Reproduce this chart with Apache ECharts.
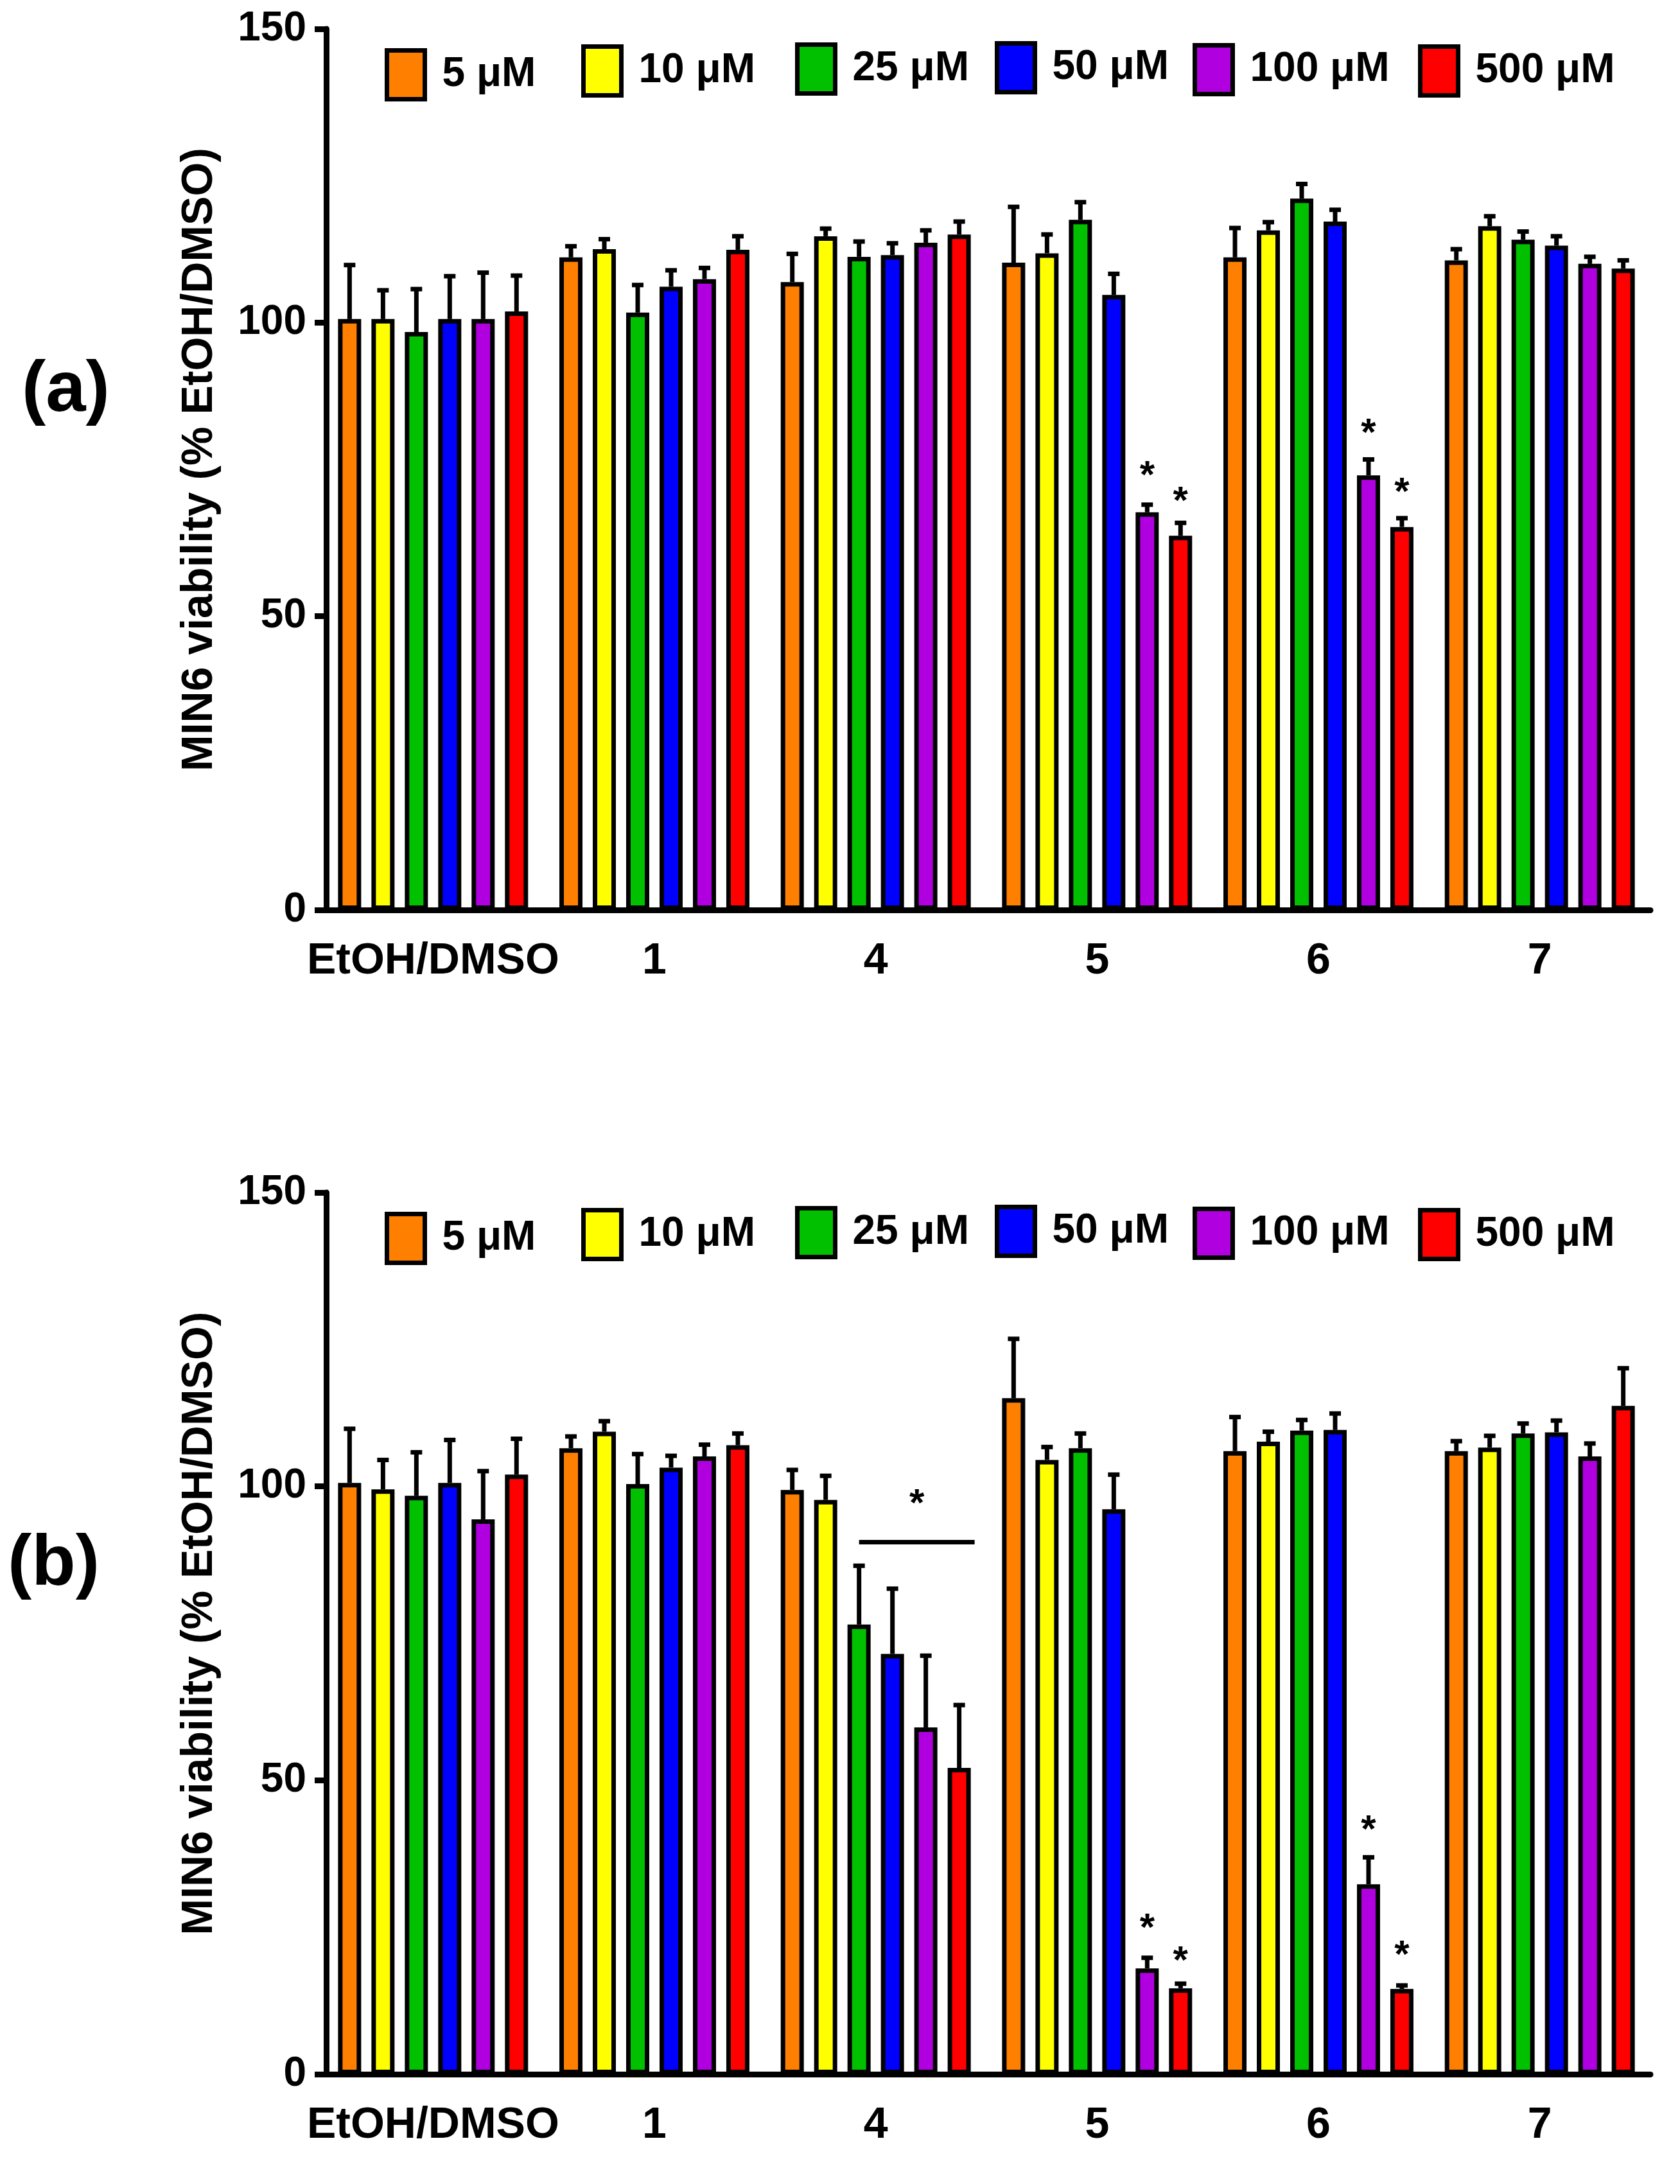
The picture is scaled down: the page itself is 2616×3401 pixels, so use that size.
<!DOCTYPE html>
<html>
<head>
<meta charset="utf-8">
<script src="https://cdn.jsdelivr.net/npm/echarts@6/dist/echarts.min.js"></script>
<style>
html,body{margin:0;padding:0;background:#fff;}
#chart{width:2616px;height:3401px;}
</style>
</head>
<body>
<div id="chart"></div>
<script>
// ---------------- DATA ----------------
const categories = ['EtOH/DMSO', '1', '4', '5', '6', '7'];
const concentrations = ['5 μM', '10 μM', '25 μM', '50 μM', '100 μM', '500 μM'];
const yTicks = [0, 50, 100, 150];

// Panel (a): means per concentration across categories
const a_5   = [100.6, 111.1, 106.9, 110.2, 111.1, 110.6];
const a_10  = [100.6, 112.5, 114.7, 111.8, 115.7, 116.4];
const a_25  = [98.4, 101.7, 111.2, 117.5, 121.1, 114.1];
const a_50  = [100.6, 106.1, 111.5, 104.7, 117.2, 113.1];
const a_100 = [100.6, 107.4, 113.6, 67.7, 74.0, 110.0];
const a_500 = [101.9, 112.4, 115.0, 63.7, 65.2, 109.2];
// Panel (a): upper error (SD)
const a_5_sd   = [9.2, 1.9, 4.8, 9.5, 5.0, 1.9];
const a_10_sd  = [4.9, 1.7, 1.3, 3.2, 1.4, 1.7];
const a_25_sd  = [7.3, 4.7, 2.6, 3.0, 2.5, 1.4];
const a_50_sd  = [7.3, 2.8, 2.0, 3.6, 2.0, 1.6];
const a_100_sd = [7.9, 1.9, 2.1, 1.3, 2.7, 1.2];
const a_500_sd = [6.1, 2.3, 2.2, 2.2, 1.5, 1.4];

// Panel (b): means
const b_5   = [100.6, 106.5, 99.4, 115.0, 106.0, 106.0];
const b_10  = [99.5, 109.3, 97.7, 104.5, 107.6, 106.6];
const b_25  = [98.4, 100.4, 76.5, 106.5, 109.5, 109.0];
const b_50  = [100.6, 103.2, 71.5, 96.1, 109.6, 109.2];
const b_100 = [94.4, 105.1, 59.0, 18.0, 32.3, 105.1];
const b_500 = [102.0, 107.0, 52.1, 14.6, 14.5, 113.7];
// Panel (b): upper error (SD)
const b_5_sd   = [9.2, 2.0, 3.4, 10.1, 5.8, 1.7];
const b_10_sd  = [5.0, 1.8, 4.1, 2.2, 1.7, 2.0];
const b_25_sd  = [7.4, 5.1, 10.0, 2.5, 1.8, 1.7];
const b_50_sd  = [7.3, 2.0, 11.1, 5.9, 2.8, 2.0];
const b_100_sd = [8.2, 2.0, 12.2, 1.8, 4.6, 2.2];
const b_500_sd = [6.1, 2.0, 10.7, 0.8, 0.6, 6.4];

// Significance marks: [categoryIndex, concentrationIndex, y value of asterisk]
const a_stars = [[3, 4, 74.8], [3, 5, 70.5], [4, 4, 82.1], [4, 5, 72.0]];
const b_stars = [[3, 4, 25.7], [3, 5, 20.2], [4, 4, 42.4], [4, 5, 21.1]];
// Bracket: [categoryIndex, fromConcIdx, toConcIdx, line y value, asterisk y value]
const b_bracket = [[2, 2, 5, 90.5, 98.0]];

// ---------------- STYLE / LAYOUT ----------------
const colors = ['#FF8000', '#FFFF00', '#00C000', '#0000FF', '#B000E0', '#FF0000'];
const FONT = "'Liberation Sans', Arial, Helvetica, sans-serif";
const BAR_W = 36, BAR_GAP = 0.444, BORDER = 7;
const PITCH = BAR_W * (1 + BAR_GAP);
const legendLeft = [596, 902, 1235, 1546, 1854, 2205];
const legendTopOffset = [27, 21, 18, 16, 19, 21];
const panels = [
  {top: 45, height: 1372, means: [a_5, a_10, a_25, a_50, a_100, a_500],
   sds: [a_5_sd, a_10_sd, a_25_sd, a_50_sd, a_100_sd, a_500_sd], stars: a_stars, bracket: [],
   label: '(a)', labelLeft: 34, labelTop: 553},
  {top: 1857, height: 1373, means: [b_5, b_10, b_25, b_50, b_100, b_500],
   sds: [b_5_sd, b_10_sd, b_25_sd, b_50_sd, b_100_sd, b_500_sd], stars: b_stars, bracket: b_bracket,
   label: '(b)', labelLeft: 12, labelTop: 2381}
];

const grid = [], xAxis = [], yAxis = [], series = [], legend = [], title = [];

panels.forEach((p, pi) => {
  grid.push({left: 502, top: p.top, width: 2068, height: p.height, containLabel: false});
  xAxis.push({
    type: 'category', gridIndex: pi, data: categories,
    axisLine: {lineStyle: {color: '#000', width: 9}},
    axisTick: {alignWithLabel: true, length: 32, lineStyle: {color: '#000', width: 8}},
    axisLabel: {color: '#000', fontSize: 68, fontWeight: 'bold', fontFamily: FONT, margin: 46, interval: 0},
    splitLine: {show: false}
  });
  yAxis.push({
    type: 'value', gridIndex: pi, min: 0, max: 150, interval: 50, offset: -6,
    name: 'MIN6 viability (% EtOH/DMSO)', nameLocation: 'middle', nameGap: 163,
    nameTextStyle: {color: '#000', fontSize: 68, fontWeight: 'bold', fontFamily: FONT, padding: [0, 0, 0, 31]},
    axisLine: {show: true, lineStyle: {color: '#000', width: 9}},
    axisTick: {show: true, length: 18, lineStyle: {color: '#000', width: 9}},
    axisLabel: {color: '#000', fontSize: 64, fontWeight: 'bold', fontFamily: FONT, margin: 31,
      formatter: v => (yTicks.indexOf(v) >= 0 ? String(v) : '')},
    splitLine: {show: false}
  });

  concentrations.forEach((c, si) => {
    series.push({
      type: 'bar', name: c, xAxisIndex: pi, yAxisIndex: pi,
      data: p.means[si], barWidth: BAR_W, barGap: (BAR_GAP * 100) + '%',
      itemStyle: {color: colors[si], borderColor: '#000', borderWidth: BORDER},
      emphasis: {disabled: true}, silent: true, animation: false
    });
    legend.push({
      data: [c], left: legendLeft[si] + 3, top: p.top + legendTopOffset[si] + 3,
      padding: 0, icon: 'rect', itemWidth: 59, itemHeight: 76, selectedMode: false,
      itemStyle: {borderWidth: 7, borderColor: '#000'},
      textStyle: {color: '#000', fontSize: 64, fontWeight: 'bold', fontFamily: FONT, padding: [10, 0, 0, 22]}
    });
  });

  // Error bars (upper only)
  const errData = [];
  concentrations.forEach((c, si) => {
    p.means[si].forEach((m, ci) => errData.push([ci, m, m + p.sds[si][ci], si]));
  });
  series.push({
    type: 'custom', xAxisIndex: pi, yAxisIndex: pi, data: errData, silent: true, animation: false, clip: false, z: 1,
    renderItem: (params, api) => {
      const cat = api.value(0), mean = api.value(1), top = api.value(2), s = api.value(3);
      const cx = api.coord([cat, 0])[0] + (s - 2.5) * PITCH;
      const y0 = api.coord([cat, mean])[1];
      const y1 = api.coord([cat, top])[1];
      return {type: 'group', children: [
        {type: 'line', shape: {x1: cx, y1: y0, x2: cx, y2: y1}, style: {stroke: '#000', lineWidth: 7}},
        {type: 'line', shape: {x1: cx - 9, y1: y1, x2: cx + 9, y2: y1}, style: {stroke: '#000', lineWidth: 7}}
      ]};
    }
  });

  // Asterisks
  series.push({
    type: 'custom', xAxisIndex: pi, yAxisIndex: pi, data: p.stars, silent: true, animation: false, clip: false,
    renderItem: (params, api) => {
      const cat = api.value(0), s = api.value(1), y = api.value(2);
      const cx = api.coord([cat, 0])[0] + (s - 2.5) * PITCH;
      const cy = api.coord([cat, y])[1];
      return {type: 'text', x: cx, y: cy + 10,
        style: {text: '*', fill: '#000', fontSize: 60, fontWeight: 'bold', fontFamily: FONT, align: 'center', verticalAlign: 'middle'}};
    }
  });

  // Bracket with asterisk
  if (p.bracket.length) {
    series.push({
      type: 'custom', xAxisIndex: pi, yAxisIndex: pi, data: p.bracket, silent: true, animation: false, clip: false,
      renderItem: (params, api) => {
        const cat = api.value(0), s0 = api.value(1), s1 = api.value(2), ly = api.value(3), sy = api.value(4);
        const base = api.coord([cat, 0])[0];
        const x0 = base + (s0 - 2.5) * PITCH;
        const x1 = base + (s1 - 2.5) * PITCH + 24;
        const yL = api.coord([cat, ly])[1];
        const yS = api.coord([cat, sy])[1];
        return {type: 'group', children: [
          {type: 'line', shape: {x1: x0, y1: yL, x2: x1, y2: yL}, style: {stroke: '#000', lineWidth: 7}},
          {type: 'text', x: (x0 + x1) / 2, y: yS + 10,
            style: {text: '*', fill: '#000', fontSize: 60, fontWeight: 'bold', fontFamily: FONT, align: 'center', verticalAlign: 'middle'}}
        ]};
      }
    });
  }

  title.push({text: p.label, left: p.labelLeft, top: p.labelTop, padding: 0,
    textStyle: {color: '#000', fontSize: 112, fontWeight: 'bold', fontFamily: FONT}});
});

const chart = echarts.init(document.getElementById('chart'), null, {renderer: 'canvas', devicePixelRatio: 1});
chart.setOption({
  backgroundColor: '#fff',
  animation: false,
  title, grid, xAxis, yAxis, legend, series
});
</script>
</body>
</html>
